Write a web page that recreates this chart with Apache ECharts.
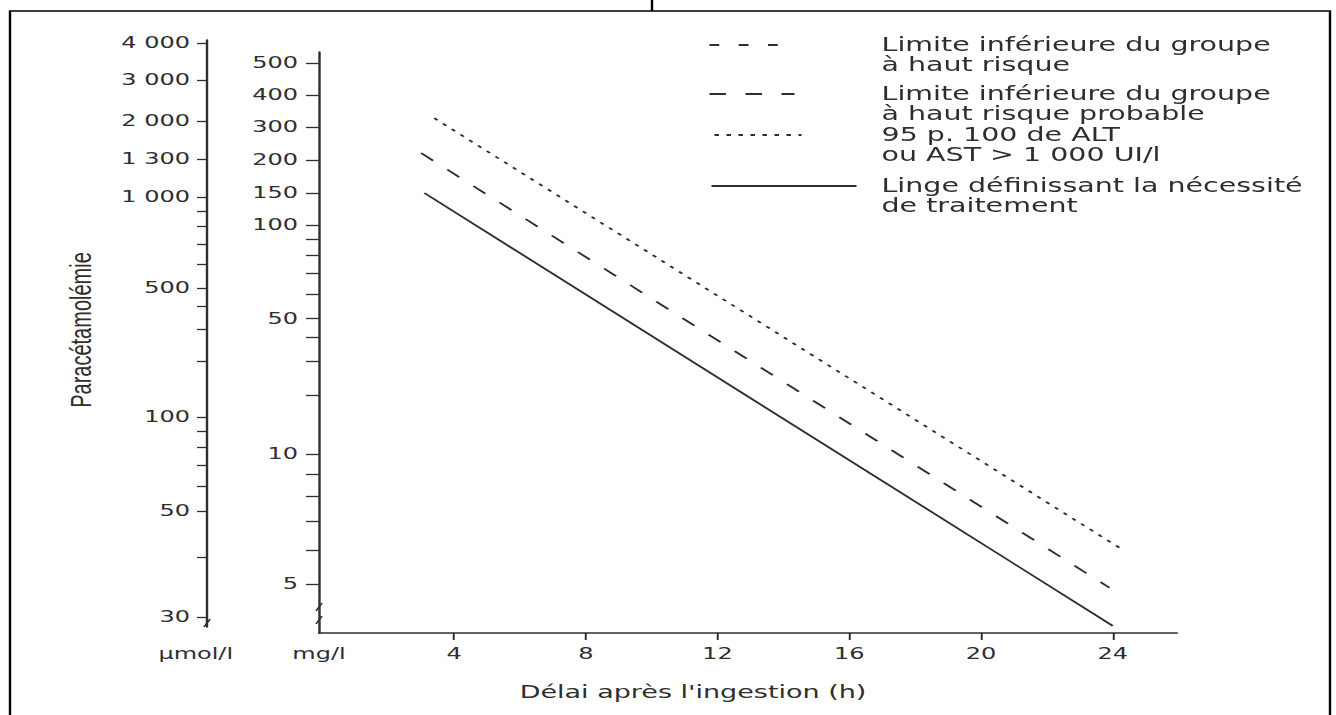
<!DOCTYPE html>
<html>
<head>
<meta charset="utf-8">
<script src="https://cdn.jsdelivr.net/npm/echarts@6/dist/echarts.min.js"></script>
<style>
  html, body { margin:0; padding:0; background:#fff; }
  #wrap { width:1336px; height:715px; overflow:hidden; background:#fff; }
  #chart { width:890.667px; height:715px; transform:scaleX(1.5); transform-origin:0 0; }
</style>
</head>
<body>
<div id="wrap"><div id="chart"></div></div>
<script>
// ---------- DATA ----------
const mgTicks   = [5, 10, 50, 100, 150, 200, 300, 400, 500];          // mg/l labelled ticks
const mgMinor   = [6, 7, 8, 9, 20, 30, 40, 60, 70, 80, 90];          // mg/l unlabelled ticks
const umolTicks = [30, 50, 100, 500, 1000, 1300, 2000, 3000, 4000];  // µmol/l labelled ticks
const umolMinor = [40, 60, 70, 80, 90, 200, 300, 400, 600, 700, 800, 900];
const xTicks    = [4, 8, 12, 16, 20, 24];                            // hours

const seriesNames = [
  'Limite inférieure du groupe\nà haut risque',
  'Limite inférieure du groupe\nà haut risque probable',
  '95 p. 100 de ALT\nou AST > 1 000 UI/l',
  'Linge définissant la nécessité\nde traitement'
];
// [hours, mg/l]
const highRisk         = [];
const highRiskProbable = [[3.0, 218], [23.9, 4.9]];
const alt95            = [[3.4, 325], [24.3, 6.0]];
const treatment        = [[3.1, 150], [24.0, 4.0]];

const xTitle = 'Délai après l\'ingestion (h)';
const yTitle = 'Paracétamolémie';

// ---------- LAYOUT (the printed scales are not strictly logarithmic) ----------
const SX = 1.5;                       // horizontal stretch of the printed figure
const W = 1336 / SX, H = 715;
const MG_ANCHOR   = [49, 179, 314.5, 408, 440, 473, 506, 538, 570];   // scale units of mgTicks
const UMOL_ANCHOR = [10, 116, 210, 339, 430, 468, 506, 547, 584];     // scale units of umolTicks

function makeScale(vals, pos) {
  const n = vals.length;
  return function (v) {
    let i = 0;
    if (v >= vals[n - 1]) i = n - 2;
    else if (v > vals[0]) { while (!(v >= vals[i] && v <= vals[i + 1])) i++; }
    const l0 = Math.log10(vals[i]), l1 = Math.log10(vals[i + 1]);
    return pos[i] + (Math.log10(v) - l0) / (l1 - l0) * (pos[i + 1] - pos[i]);
  };
}
const mgScale = makeScale(mgTicks, MG_ANCHOR);
const umolScale = makeScale(umolTicks, UMOL_ANCHOR);
const fmt = v => String(v).replace(/\B(?=(\d{3})+(?!\d))/g, ' ');
function labelMap(ticks, scale) {
  const m = {};
  ticks.forEach(v => { m[scale(v).toFixed(3)] = fmt(v); });
  return m;
}
const mgLabels = labelMap(mgTicks, mgScale);
const umolLabels = labelMap(umolTicks, umolScale);

const INK = '#2e2e2e';
const FONT = 'DejaVu Sans';

const dashes = [[6.5, 13], [11, 13], [3, 5], 'solid'];
const datasets = [highRisk, highRiskProbable, alt95, treatment];

const chart = echarts.init(document.getElementById('chart'), null, {renderer: 'svg', width: W, height: H});

const LH = 19.5;
const legendPos = [
  {left: 708 / SX, yc: 45,  w: 72 / SX},
  {left: 708 / SX, yc: 94,  w: 85 / SX},
  {left: 713 / SX, yc: 135, w: 87 / SX},
  {left: 710 / SX, yc: 186, w: 145 / SX}
];
const TEXT_X = 880 / SX;

// small axis-break marks
function breakMark(x, y) {
  return {type: 'polyline', silent: true,
    shape: {points: [[x - 3 / SX, y + 4], [x + 3 / SX, y - 4]]},
    style: {stroke: INK, lineWidth: 1.2, fill: 'none'}};
}

const option = {
  animation: false,
  backgroundColor: '#fff',
  textStyle: {fontFamily: FONT, color: INK},
  grid: [
    {left: 319 / SX, right: W - 1177 / SX, top: 52, bottom: H - 633},
    {left: 207 / SX, width: 20, top: 40, bottom: H - 627}
  ],
  xAxis: [
    {
      gridIndex: 0, type: 'value', min: -0.1, max: 25.95,
      axisLine: {show: true, onZero: false, lineStyle: {color: INK, width: 1.6}},
      splitLine: {show: false},
      axisTick: {show: true, customValues: xTicks, length: 7, lineStyle: {color: INK, width: 1.3}},
      axisLabel: {customValues: xTicks, margin: 13, color: INK, fontSize: 16, fontFamily: FONT}
    },
    {gridIndex: 1, type: 'value', min: 0, max: 1, show: false}
  ],
  yAxis: [
    {
      gridIndex: 0, type: 'value', min: 0, max: 633 - 52,
      axisLine: {show: true, onZero: false, lineStyle: {color: INK, width: 1.6}},
      splitLine: {show: false},
      axisTick: {show: true, customValues: mgTicks.concat(mgMinor).map(mgScale), length: 13 / SX, lineStyle: {color: INK, width: 1.3}},
      axisLabel: {customValues: mgTicks.map(mgScale), margin: 21 / SX, color: INK, fontSize: 16, fontFamily: FONT,
        formatter: v => mgLabels[Number(v).toFixed(3)] || ''},
      name: 'mg/l', nameLocation: 'start', nameGap: 13,
      nameTextStyle: {color: INK, fontSize: 16, fontFamily: FONT}
    },
    {
      gridIndex: 1, type: 'value', min: 0, max: 627 - 40,
      axisLine: {show: true, onZero: false, lineStyle: {color: INK, width: 1.6}},
      splitLine: {show: false},
      axisTick: {show: true, customValues: umolTicks.concat(umolMinor).map(umolScale), length: 10 / SX, lineStyle: {color: INK, width: 1.3}},
      axisLabel: {customValues: umolTicks.map(umolScale), margin: 17 / SX, color: INK, fontSize: 16, fontFamily: FONT,
        formatter: v => umolLabels[Number(v).toFixed(3)] || ''},
      name: 'µmol/l', nameLocation: 'start', nameGap: 19,
      nameTextStyle: {color: INK, fontSize: 16, fontFamily: FONT, padding: [0, 15, 0, 0]}
    }
  ],
  legend: seriesNames.map((name, i) => ({
    data: [name], orient: 'vertical', padding: 0, selectedMode: false,
    left: legendPos[i].left, top: legendPos[i].yc - 1.5 * LH,
    itemWidth: legendPos[i].w, itemHeight: 14,
    itemStyle: {opacity: 0, borderWidth: 0},
    formatter: n => '\n' + n,
    textStyle: {fontFamily: FONT, fontSize: 19, lineHeight: LH, color: INK,
      padding: [0, 0, 0, TEXT_X - legendPos[i].left - legendPos[i].w - 5]}
  })),
  series: seriesNames.map((name, i) => ({
    name, type: 'line', xAxisIndex: 0, yAxisIndex: 0,
    symbol: 'none', silent: true,
    lineStyle: {color: INK, width: 1.6, type: dashes[i]},
    itemStyle: {color: INK},
    data: datasets[i].map(([h, v]) => [h, mgScale(v)])
  })),
  graphic: [
    {type: 'rect', silent: true, shape: {x: 10 / SX, y: 11, width: 1320 / SX, height: 720},
      style: {fill: 'none', stroke: '#000', lineWidth: 1.6}},
    {type: 'line', silent: true, shape: {x1: 652 / SX, y1: 0, x2: 652 / SX, y2: 11},
      style: {stroke: '#000', lineWidth: 1.6}},
    {type: 'text', silent: true, x: 80 / SX, y: 330, rotation: Math.PI / 2,
      style: {text: yTitle, fontFamily: 'Liberation Sans', fontSize: 20, fill: INK, align: 'center', verticalAlign: 'middle'}},
    {type: 'text', silent: true, x: 693 / SX, y: 692,
      style: {text: xTitle, fontFamily: FONT, fontSize: 18, fill: INK, align: 'center', verticalAlign: 'middle'}},
    breakMark(319 / SX, 607),
    breakMark(319 / SX, 620),
    breakMark(207 / SX, 623)
  ]
};
chart.setOption(option);
</script>
</body>
</html>
